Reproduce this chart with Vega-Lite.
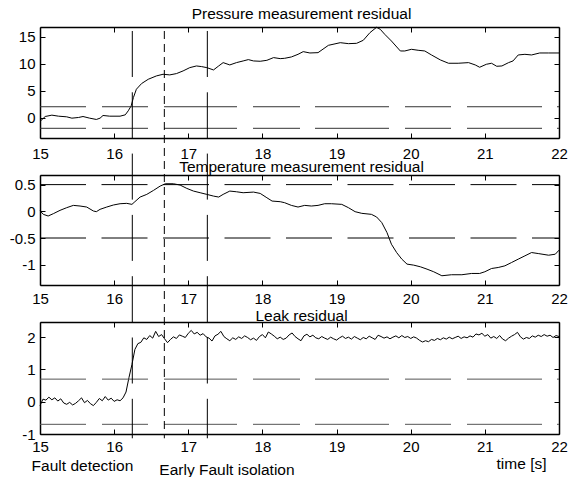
{
  "$schema": "https://vega.github.io/schema/vega-lite/v6.json",
  "padding": {"left": 9, "top": 7, "right": 0, "bottom": 0},
  "bounds": "flush",
  "spacing": 37,
  "datasets": {
    "pressure": [
      {"t": 15.00, "v": -0.73}, {"t": 15.07, "v": 0.19}, {"t": 15.16, "v": 0.44}, {"t": 15.25, "v": 0.25},
      {"t": 15.36, "v": 0.13}, {"t": 15.43, "v": -0.12}, {"t": 15.52, "v": 0.01}, {"t": 15.58, "v": 0.19},
      {"t": 15.67, "v": -0.12}, {"t": 15.76, "v": -0.36}, {"t": 15.81, "v": -0.12}, {"t": 15.85, "v": 0.38},
      {"t": 15.94, "v": 0.25}, {"t": 16.08, "v": 0.25}, {"t": 16.15, "v": 0.5}, {"t": 16.19, "v": 1.24},
      {"t": 16.23, "v": 2.17}, {"t": 16.26, "v": 3.71}, {"t": 16.30, "v": 5.25}, {"t": 16.37, "v": 6.3},
      {"t": 16.46, "v": 7.1}, {"t": 16.57, "v": 7.72}, {"t": 16.66, "v": 8.03}, {"t": 16.75, "v": 7.91},
      {"t": 16.84, "v": 8.15}, {"t": 16.93, "v": 8.65}, {"t": 17.02, "v": 9.26}, {"t": 17.11, "v": 9.57},
      {"t": 17.18, "v": 9.45}, {"t": 17.25, "v": 9.26}, {"t": 17.34, "v": 8.83}, {"t": 17.41, "v": 9.57},
      {"t": 17.47, "v": 10.19}, {"t": 17.56, "v": 9.76}, {"t": 17.65, "v": 10.19}, {"t": 17.74, "v": 10.5},
      {"t": 17.81, "v": 10.75}, {"t": 17.88, "v": 10.5}, {"t": 17.97, "v": 10.44}, {"t": 18.06, "v": 10.62},
      {"t": 18.15, "v": 11.12}, {"t": 18.24, "v": 10.93}, {"t": 18.30, "v": 10.99}, {"t": 18.39, "v": 11.24},
      {"t": 18.48, "v": 11.73}, {"t": 18.55, "v": 12.23}, {"t": 18.64, "v": 11.98}, {"t": 18.75, "v": 12.04},
      {"t": 18.89, "v": 13.4}, {"t": 19.05, "v": 13.89}, {"t": 19.16, "v": 13.71}, {"t": 19.27, "v": 13.77},
      {"t": 19.36, "v": 14.33}, {"t": 19.45, "v": 15.75}, {"t": 19.54, "v": 16.75}, {"t": 19.59, "v": 16.36},
      {"t": 19.65, "v": 15.44}, {"t": 19.74, "v": 14.2}, {"t": 19.86, "v": 12.35}, {"t": 19.92, "v": 12.35},
      {"t": 20.01, "v": 12.66}, {"t": 20.10, "v": 12.48}, {"t": 20.19, "v": 12.35}, {"t": 20.28, "v": 11.61},
      {"t": 20.40, "v": 10.69}, {"t": 20.51, "v": 10.07}, {"t": 20.64, "v": 10.07}, {"t": 20.78, "v": 10.19},
      {"t": 20.87, "v": 9.76}, {"t": 20.93, "v": 9.33}, {"t": 21.02, "v": 9.88}, {"t": 21.09, "v": 10.07},
      {"t": 21.16, "v": 9.51}, {"t": 21.23, "v": 9.57}, {"t": 21.32, "v": 10.19}, {"t": 21.38, "v": 10.5},
      {"t": 21.45, "v": 11.61}, {"t": 21.54, "v": 11.73}, {"t": 21.63, "v": 11.61}, {"t": 21.74, "v": 11.98},
      {"t": 21.86, "v": 11.98}, {"t": 22.00, "v": 11.98}
    ],
    "temperature": [
      {"t": 15.00, "v": 0.01}, {"t": 15.045, "v": -0.057}, {"t": 15.11, "v": -0.088}, {"t": 15.18, "v": -0.044},
      {"t": 15.27, "v": 0.018}, {"t": 15.36, "v": 0.068}, {"t": 15.45, "v": 0.111}, {"t": 15.54, "v": 0.099},
      {"t": 15.63, "v": 0.08}, {"t": 15.72, "v": 0.006}, {"t": 15.76, "v": -0.007}, {"t": 15.81, "v": 0.037},
      {"t": 15.90, "v": 0.08}, {"t": 15.99, "v": 0.118}, {"t": 16.08, "v": 0.142}, {"t": 16.17, "v": 0.149},
      {"t": 16.24, "v": 0.13}, {"t": 16.28, "v": 0.18}, {"t": 16.35, "v": 0.267}, {"t": 16.44, "v": 0.317},
      {"t": 16.53, "v": 0.391}, {"t": 16.62, "v": 0.472}, {"t": 16.69, "v": 0.516}, {"t": 16.80, "v": 0.516},
      {"t": 16.89, "v": 0.491}, {"t": 16.98, "v": 0.429}, {"t": 17.07, "v": 0.379}, {"t": 17.16, "v": 0.348},
      {"t": 17.25, "v": 0.317}, {"t": 17.34, "v": 0.285}, {"t": 17.41, "v": 0.267}, {"t": 17.47, "v": 0.317},
      {"t": 17.56, "v": 0.379}, {"t": 17.65, "v": 0.366}, {"t": 17.74, "v": 0.348}, {"t": 17.88, "v": 0.36},
      {"t": 17.97, "v": 0.335}, {"t": 18.06, "v": 0.254}, {"t": 18.13, "v": 0.192}, {"t": 18.24, "v": 0.18},
      {"t": 18.30, "v": 0.161}, {"t": 18.39, "v": 0.111}, {"t": 18.48, "v": 0.08}, {"t": 18.57, "v": 0.111},
      {"t": 18.66, "v": 0.099}, {"t": 18.75, "v": 0.111}, {"t": 18.84, "v": 0.142}, {"t": 18.93, "v": 0.142},
      {"t": 19.07, "v": 0.13}, {"t": 19.16, "v": 0.068}, {"t": 19.25, "v": -0.007}, {"t": 19.34, "v": -0.038},
      {"t": 19.47, "v": -0.057}, {"t": 19.54, "v": -0.106}, {"t": 19.61, "v": -0.212}, {"t": 19.68, "v": -0.399},
      {"t": 19.74, "v": -0.616}, {"t": 19.81, "v": -0.772}, {"t": 19.88, "v": -0.896}, {"t": 19.95, "v": -0.989},
      {"t": 20.04, "v": -1.008}, {"t": 20.13, "v": -1.039}, {"t": 20.22, "v": -1.083}, {"t": 20.31, "v": -1.132},
      {"t": 20.42, "v": -1.207}, {"t": 20.55, "v": -1.188}, {"t": 20.69, "v": -1.188}, {"t": 20.82, "v": -1.164},
      {"t": 20.93, "v": -1.164}, {"t": 21.00, "v": -1.132}, {"t": 21.09, "v": -1.071}, {"t": 21.18, "v": -1.052},
      {"t": 21.27, "v": -1.021}, {"t": 21.36, "v": -0.959}, {"t": 21.45, "v": -0.896}, {"t": 21.54, "v": -0.834},
      {"t": 21.63, "v": -0.772}, {"t": 21.72, "v": -0.791}, {"t": 21.86, "v": -0.822}, {"t": 21.95, "v": -0.803},
      {"t": 22.00, "v": -0.728}
    ],
    "leak": [
      {"t": 15.00, "v": -0.12}, {"t": 15.04, "v": 0.08}, {"t": 15.08, "v": 0.05}, {"t": 15.12, "v": 0.14},
      {"t": 15.16, "v": 0.06}, {"t": 15.20, "v": 0.12}, {"t": 15.24, "v": 0.02}, {"t": 15.28, "v": 0.09},
      {"t": 15.32, "v": -0.04}, {"t": 15.36, "v": -0.08}, {"t": 15.40, "v": -0.02}, {"t": 15.44, "v": -0.10},
      {"t": 15.48, "v": -0.05}, {"t": 15.52, "v": 0.03}, {"t": 15.56, "v": 0.12}, {"t": 15.60, "v": -0.03},
      {"t": 15.64, "v": 0.04}, {"t": 15.68, "v": -0.06}, {"t": 15.72, "v": -0.12}, {"t": 15.76, "v": -0.02},
      {"t": 15.80, "v": 0.10}, {"t": 15.84, "v": 0.03}, {"t": 15.88, "v": 0.16}, {"t": 15.92, "v": 0.05},
      {"t": 15.96, "v": 0.11}, {"t": 16.00, "v": 0.01}, {"t": 16.04, "v": 0.06}, {"t": 16.08, "v": 0.03},
      {"t": 16.12, "v": 0.12}, {"t": 16.16, "v": 0.30}, {"t": 16.20, "v": 0.75}, {"t": 16.24, "v": 1.15},
      {"t": 16.28, "v": 1.62}, {"t": 16.32, "v": 1.80}, {"t": 16.36, "v": 1.84}, {"t": 16.40, "v": 1.98},
      {"t": 16.44, "v": 1.93}, {"t": 16.48, "v": 2.05}, {"t": 16.52, "v": 1.97}, {"t": 16.56, "v": 2.18},
      {"t": 16.60, "v": 2.02}, {"t": 16.64, "v": 2.08}, {"t": 16.68, "v": 1.95}, {"t": 16.72, "v": 1.83},
      {"t": 16.76, "v": 1.93}, {"t": 16.80, "v": 2.01}, {"t": 16.84, "v": 1.96}, {"t": 16.88, "v": 2.07},
      {"t": 16.92, "v": 2.03}, {"t": 16.96, "v": 1.99}, {"t": 17.00, "v": 2.12}, {"t": 17.04, "v": 2.21},
      {"t": 17.08, "v": 2.10}, {"t": 17.12, "v": 2.15}, {"t": 17.16, "v": 2.06}, {"t": 17.20, "v": 2.11},
      {"t": 17.24, "v": 2.01}, {"t": 17.28, "v": 1.97}, {"t": 17.32, "v": 1.88}, {"t": 17.36, "v": 2.04},
      {"t": 17.40, "v": 2.09}, {"t": 17.44, "v": 2.18}, {"t": 17.48, "v": 2.02}, {"t": 17.52, "v": 1.95},
      {"t": 17.56, "v": 1.89}, {"t": 17.60, "v": 1.98}, {"t": 17.64, "v": 1.93}, {"t": 17.68, "v": 2.01},
      {"t": 17.72, "v": 1.96}, {"t": 17.76, "v": 2.04}, {"t": 17.80, "v": 1.99}, {"t": 17.84, "v": 1.92},
      {"t": 17.88, "v": 1.97}, {"t": 17.92, "v": 1.90}, {"t": 17.96, "v": 2.02}, {"t": 18.00, "v": 2.08},
      {"t": 18.04, "v": 1.98}, {"t": 18.08, "v": 2.16}, {"t": 18.12, "v": 2.10}, {"t": 18.16, "v": 2.03},
      {"t": 18.20, "v": 1.95}, {"t": 18.24, "v": 2.00}, {"t": 18.28, "v": 1.93}, {"t": 18.32, "v": 1.97},
      {"t": 18.36, "v": 2.07}, {"t": 18.40, "v": 2.13}, {"t": 18.44, "v": 2.02}, {"t": 18.48, "v": 1.95},
      {"t": 18.52, "v": 1.89}, {"t": 18.56, "v": 2.04}, {"t": 18.60, "v": 2.09}, {"t": 18.64, "v": 2.01},
      {"t": 18.68, "v": 2.06}, {"t": 18.72, "v": 1.98}, {"t": 18.76, "v": 1.95}, {"t": 18.80, "v": 2.02},
      {"t": 18.84, "v": 1.97}, {"t": 18.88, "v": 1.93}, {"t": 18.92, "v": 2.00}, {"t": 18.96, "v": 1.95},
      {"t": 19.00, "v": 1.91}, {"t": 19.04, "v": 1.98}, {"t": 19.08, "v": 2.03}, {"t": 19.12, "v": 1.96},
      {"t": 19.16, "v": 2.00}, {"t": 19.20, "v": 1.94}, {"t": 19.24, "v": 2.02}, {"t": 19.28, "v": 1.97},
      {"t": 19.32, "v": 1.92}, {"t": 19.36, "v": 1.99}, {"t": 19.40, "v": 1.95}, {"t": 19.44, "v": 2.03},
      {"t": 19.48, "v": 1.98}, {"t": 19.52, "v": 1.93}, {"t": 19.56, "v": 2.06}, {"t": 19.60, "v": 2.02},
      {"t": 19.64, "v": 1.97}, {"t": 19.68, "v": 2.01}, {"t": 19.72, "v": 1.95}, {"t": 19.76, "v": 2.00},
      {"t": 19.80, "v": 2.04}, {"t": 19.84, "v": 1.98}, {"t": 19.88, "v": 2.05}, {"t": 19.92, "v": 1.99},
      {"t": 19.96, "v": 2.02}, {"t": 20.00, "v": 1.96}, {"t": 20.04, "v": 2.01}, {"t": 20.08, "v": 1.97},
      {"t": 20.12, "v": 1.90}, {"t": 20.16, "v": 1.85}, {"t": 20.20, "v": 1.89}, {"t": 20.24, "v": 1.86},
      {"t": 20.28, "v": 1.93}, {"t": 20.32, "v": 1.90}, {"t": 20.36, "v": 1.96}, {"t": 20.40, "v": 1.92},
      {"t": 20.44, "v": 1.98}, {"t": 20.48, "v": 1.94}, {"t": 20.52, "v": 2.00}, {"t": 20.56, "v": 1.95},
      {"t": 20.60, "v": 1.99}, {"t": 20.64, "v": 2.03}, {"t": 20.68, "v": 1.96}, {"t": 20.72, "v": 2.01},
      {"t": 20.76, "v": 1.98}, {"t": 20.80, "v": 2.04}, {"t": 20.84, "v": 2.00}, {"t": 20.88, "v": 2.10},
      {"t": 20.92, "v": 2.07}, {"t": 20.96, "v": 2.12}, {"t": 21.00, "v": 2.03}, {"t": 21.04, "v": 2.08},
      {"t": 21.08, "v": 1.97}, {"t": 21.12, "v": 2.02}, {"t": 21.16, "v": 1.96}, {"t": 21.20, "v": 2.05},
      {"t": 21.24, "v": 1.94}, {"t": 21.28, "v": 1.89}, {"t": 21.32, "v": 1.97}, {"t": 21.36, "v": 2.03},
      {"t": 21.40, "v": 2.08}, {"t": 21.44, "v": 2.15}, {"t": 21.48, "v": 2.01}, {"t": 21.52, "v": 1.94},
      {"t": 21.56, "v": 1.99}, {"t": 21.60, "v": 1.96}, {"t": 21.64, "v": 2.04}, {"t": 21.68, "v": 2.00},
      {"t": 21.72, "v": 2.06}, {"t": 21.76, "v": 2.02}, {"t": 21.80, "v": 2.08}, {"t": 21.84, "v": 2.03},
      {"t": 21.88, "v": 2.06}, {"t": 21.92, "v": 1.99}, {"t": 21.96, "v": 2.05}, {"t": 22.00, "v": 2.02}
    ],
    "pressure_limits": [{"level": 2}, {"level": -2}],
    "temperature_limits": [{"level": 0.5}, {"level": -0.5}],
    "leak_limits": [{"level": 0.7}, {"level": -0.7}],
    "events": [
      {"event": "Fault detection", "t": 16.245, "kind": "long"},
      {"event": "Early Fault isolation", "t": 16.677, "kind": "short"},
      {"event": "Fault isolation", "t": 17.257, "kind": "long"}
    ]
  },
  "vconcat": [
    {
      "width": 519,
      "height": 111,
      "title": {"text": "Pressure measurement residual", "offset": 2.5},
      "resolve": {"axis": {"x": "independent", "y": "independent"}},
      "layer": [
        {
          "data": {"name": "pressure"},
          "mark": {"type": "line", "color": "black", "strokeWidth": 1},
          "encoding": {
            "x": {"field": "t", "type": "quantitative", "scale": {"domain": [15, 22], "nice": false, "zero": false},
                  "axis": {"orient": "bottom", "values": [15, 16, 17, 18, 19, 20, 21, 22], "labelPadding": 13.3}},
            "y": {"field": "v", "type": "quantitative", "scale": {"domain": [-3.8, 16.8], "nice": false, "zero": false},
                  "axis": {"orient": "left", "values": [0, 5, 10, 15]}}
          }
        },
        {
          "data": {"name": "pressure_limits"},
          "mark": {"type": "rule", "color": "#333", "strokeWidth": 1, "strokeDash": [46, 16, 46, 16, 73, 16, 47, 15, 74, 16, 46, 16, 75, 15, 10]},
          "encoding": {
            "x": {"datum": 15, "type": "quantitative", "axis": null},
            "x2": {"datum": 22},
            "y": {"field": "level", "type": "quantitative",
                  "axis": {"orient": "right", "values": [0, 5, 10, 15], "labels": false}}
          }
        },
        {
          "data": {"name": "events"},
          "transform": [{"filter": "datum.kind == 'long'"}],
          "mark": {"type": "rule", "color": "black", "strokeWidth": 1, "strokeDash": [46, 15.3], "clip": false},
          "encoding": {
            "x": {"field": "t", "type": "quantitative",
                  "axis": {"orient": "top", "values": [15, 16, 17, 18, 19, 20, 21, 22], "labels": false}},
            "y": {"datum": 16.06, "type": "quantitative", "axis": null},
            "y2": {"datum": -10.67}
          }
        },
        {
          "data": {"name": "events"},
          "transform": [{"filter": "datum.kind == 'short'"}],
          "mark": {"type": "rule", "color": "black", "strokeWidth": 1, "strokeDash": [8, 5], "clip": false},
          "encoding": {
            "x": {"field": "t", "type": "quantitative", "axis": null},
            "y": {"datum": 16.06, "type": "quantitative", "axis": null},
            "y2": {"datum": -10.67}
          }
        }
      ]
    },
    {
      "width": 519,
      "height": 110,
      "title": {"text": "Temperature measurement residual", "offset": -0.5},
      "resolve": {"axis": {"x": "independent", "y": "independent"}},
      "layer": [
        {
          "data": {"name": "temperature"},
          "mark": {"type": "line", "color": "black", "strokeWidth": 1},
          "encoding": {
            "x": {"field": "t", "type": "quantitative", "scale": {"domain": [15, 22], "nice": false, "zero": false},
                  "axis": {"orient": "bottom", "values": [15, 16, 17, 18, 19, 20, 21, 22], "labelPadding": 11.3}},
            "y": {"field": "v", "type": "quantitative", "scale": {"domain": [-1.38, 0.68], "nice": false, "zero": false},
                  "axis": {"orient": "left", "values": [-1, -0.5, 0, 0.5]}}
          }
        },
        {
          "data": {"name": "temperature_limits"},
          "mark": {"type": "rule", "color": "black", "strokeWidth": 1, "strokeDash": [46, 15.5]},
          "encoding": {
            "x": {"datum": 15, "type": "quantitative", "axis": null},
            "x2": {"datum": 22},
            "y": {"field": "level", "type": "quantitative",
                  "axis": {"orient": "right", "values": [-1, -0.5, 0, 0.5], "labels": false}}
          }
        },
        {
          "data": {"name": "events"},
          "transform": [{"filter": "datum.kind == 'long'"}],
          "mark": {"type": "rule", "color": "black", "strokeWidth": 1, "strokeDash": [46, 15.3], "strokeDashOffset": 21.4, "clip": false},
          "encoding": {
            "x": {"field": "t", "type": "quantitative",
                  "axis": {"orient": "top", "values": [15, 16, 17, 18, 19, 20, 21, 22], "labels": false}},
            "y": {"datum": 0.68, "type": "quantitative", "axis": null},
            "y2": {"datum": -2.073}
          }
        },
        {
          "data": {"name": "events"},
          "transform": [{"filter": "datum.kind == 'short'"}],
          "mark": {"type": "rule", "color": "black", "strokeWidth": 1, "strokeDash": [8, 5], "strokeDashOffset": 1, "clip": false},
          "encoding": {
            "x": {"field": "t", "type": "quantitative", "axis": null},
            "y": {"datum": 0.68, "type": "quantitative", "axis": null},
            "y2": {"datum": -2.073}
          }
        }
      ]
    },
    {
      "width": 519,
      "height": 112,
      "title": {"text": "Leak residual", "offset": -3},
      "resolve": {"axis": {"x": "independent", "y": "independent"}},
      "layer": [
        {
          "data": {"name": "leak"},
          "mark": {"type": "line", "color": "black", "strokeWidth": 1},
          "encoding": {
            "x": {"field": "t", "type": "quantitative", "scale": {"domain": [15, 22], "nice": false, "zero": false},
                  "axis": {"orient": "bottom", "values": [15, 16, 17, 18, 19, 20, 21, 22], "labelPadding": 10.7,
                           "title": "time [s]", "titleAlign": "right", "titleX": 506, "titleY": 34.6,
                           "titleBaseline": "alphabetic", "titleFontWeight": "normal", "titleFontSize": 15.5,
                           "titleFont": "Liberation Sans", "titleColor": "black"}},
            "y": {"field": "v", "type": "quantitative", "scale": {"domain": [-1, 2.47], "nice": false, "zero": false},
                  "axis": {"orient": "left", "values": [-1, 0, 1, 2]}}
          }
        },
        {
          "data": {"name": "leak_limits"},
          "mark": {"type": "rule", "color": "#555", "strokeWidth": 1, "strokeDash": [46, 16, 46, 16, 73, 16, 47, 15, 74, 16, 46, 16, 75, 15, 10]},
          "encoding": {
            "x": {"datum": 15, "type": "quantitative", "axis": null},
            "x2": {"datum": 22},
            "y": {"field": "level", "type": "quantitative",
                  "axis": {"orient": "right", "values": [-1, 0, 1, 2], "labels": false}}
          }
        },
        {
          "data": {"name": "events"},
          "transform": [{"filter": "datum.kind == 'long'"}],
          "mark": {"type": "rule", "color": "black", "strokeWidth": 1, "strokeDash": [46, 15.3], "strokeDashOffset": 45.8, "clip": false},
          "encoding": {
            "x": {"field": "t", "type": "quantitative",
                  "axis": {"orient": "top", "values": [15, 16, 17, 18, 19, 20, 21, 22], "labels": false}},
            "y": {"datum": 2.47, "type": "quantitative", "axis": null},
            "y2": {"datum": -1.133}
          }
        },
        {
          "data": {"name": "events"},
          "transform": [{"filter": "datum.kind == 'short'"}],
          "mark": {"type": "rule", "color": "black", "strokeWidth": 1, "strokeDash": [8, 5], "strokeDashOffset": 5, "clip": false},
          "encoding": {
            "x": {"field": "t", "type": "quantitative", "axis": null},
            "y": {"datum": 2.47, "type": "quantitative", "axis": null},
            "y2": {"datum": -1.133}
          }
        },
        {
          "data": {"name": "events"},
          "transform": [{"filter": "datum.event == 'Fault detection'"}],
          "mark": {"type": "text", "align": "right", "baseline": "alphabetic", "dx": 1, "fontSize": 15.5, "font": "Liberation Sans", "color": "black", "clip": false},
          "encoding": {
            "x": {"field": "t", "type": "quantitative", "axis": null},
            "y": {"datum": -2.155, "type": "quantitative", "axis": null},
            "text": {"field": "event"}
          }
        },
        {
          "data": {"name": "events"},
          "transform": [{"filter": "datum.event == 'Early Fault isolation'"}],
          "mark": {"type": "text", "align": "left", "baseline": "alphabetic", "dx": -5, "fontSize": 15.5, "font": "Liberation Sans", "color": "black", "clip": false},
          "encoding": {
            "x": {"field": "t", "type": "quantitative", "axis": null},
            "y": {"datum": -2.258, "type": "quantitative", "axis": null},
            "text": {"field": "event"}
          }
        }
      ]
    }
  ],
  "config": {
    "background": "white",
    "view": {"stroke": null},
    "font": "Liberation Sans",
    "title": {"font": "Liberation Sans", "fontSize": 15.5, "fontWeight": "normal", "color": "black", "anchor": "middle", "baseline": "alphabetic", "dx": 2},
    "axis": {
      "title": null,
      "grid": false,
      "domainColor": "black",
      "domainWidth": 1.5,
      "tickColor": "black",
      "tickWidth": 1,
      "tickSize": -5,
      "labelFont": "Liberation Sans",
      "labelFontSize": 15,
      "labelColor": "black",
      "labelPadding": 10,
      "labelFlush": false,
      "labelOverlap": false,
      "labelExpr": "'' + datum.value"
    }
  }
}
